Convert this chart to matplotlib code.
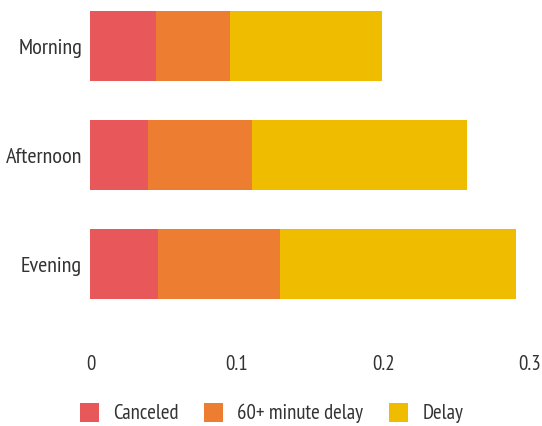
import matplotlib
matplotlib.use("Agg")
import matplotlib.pyplot as plt
import numpy as np

categories = ["Morning", "Afternoon", "Evening"]
series_names = ["Canceled", "60+ minute delay", "Delay"]
canceled = [0.0448, 0.0395, 0.0461]
delay_60 = [0.0503, 0.0709, 0.0834]
delay = [0.1041, 0.1472, 0.1613]
xticks = [0, 0.1, 0.2, 0.3]
xtick_labels = ["0", "0.1", "0.2", "0.3"]
colors = ["#E8585A", "#EC7D31", "#F0BC00"]

plt.rcParams["font.family"] = ["PT Sans Narrow", "DejaVu Sans"]
plt.rcParams["font.weight"] = "normal"

fig = plt.figure(figsize=(5.42, 4.26), dpi=100)
ax = fig.add_axes([90.5 / 542, 1 - 340 / 426, (529.4 - 90.5) / 542, 340 / 426])

y = np.arange(len(categories))
left = np.zeros(len(categories))
for name, vals, c in zip(series_names, [canceled, delay_60, delay], colors):
    ax.barh(y, vals, left=left, height=0.64, color=c, label=name, linewidth=0)
    left = left + np.array(vals)

ax.set_xlim(0, 0.3)
ax.set_ylim(2.693, -0.422)
ax.set_yticks(y)
ax.set_yticklabels(categories)
ax.set_xticks(xticks)
ax.set_xticklabels(xtick_labels)
ax.tick_params(axis="both", length=0, labelsize=15, labelcolor="#333333")
ax.tick_params(axis="y", pad=6, labelsize=16)
ax.tick_params(axis="x", pad=11)
for s in ax.spines.values():
    s.set_visible(False)

handles, labels = ax.get_legend_handles_labels()
fig.legend(handles, labels, loc="center left",
           bbox_to_anchor=(80 / 542, 1 - 413 / 426),
           ncol=3, frameon=False, fontsize=15,
           handlelength=0.92, handleheight=1.06, handletextpad=0.67,
           columnspacing=1.23, borderpad=0, borderaxespad=0,
           labelcolor="#333333")

fig.savefig("out.png", dpi=100)
